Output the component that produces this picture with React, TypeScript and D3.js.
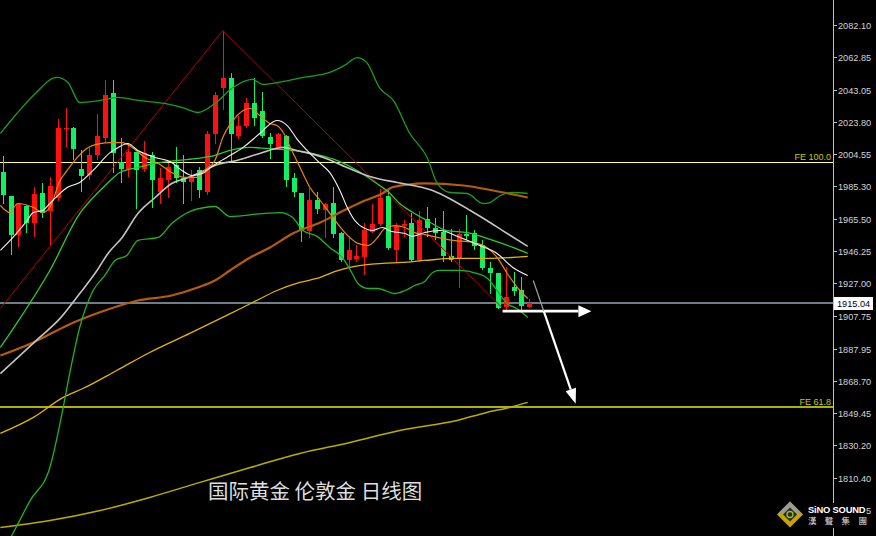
import React from 'react';
import * as d3 from 'd3';

type Pt = [number, number];

// ---- Daily candles (price) ----
const opens = [1993.5,1979.1,1956.3,1973.7,1963.5,1980.9,1970.7,1977.9,2019.8,2020.4,1995.3,1991.7,2003.7,2014.4,2040.8,1999.5,1995.3,2005.5,1995.3,2003.7,1981.5,1988.7,1997.7,1989.9,1987.5,1994.7,1981.5,2016.8,2043.8,2049.8,2015.6,2021.6,2034.8,2030.0,2015.0,2009.0,2015.6,1989.9,1980.9,1958.7,1977.3,1971.3,1975.5,1957.5,1940.8,1941.4,1942.6,1958.1,1962.9,1979.1,1946.8,1961.7,1963.5,1940.8,1965.9,1960.5,1958.1,1943.2,1942.0,1956.9,1957.5,1949.8,1936.0,1933.0,1913.2,1925.2,1923.4,1913.2];
const highs = [2003.1,1979.5,1975.2,1974.0,1984.5,1986.9,1990.5,2025.8,2031.8,2020.8,2006.7,2007.9,2028.8,2048.6,2048.6,2014.4,2011.4,2005.8,2012.6,2005.5,1995.9,1998.9,2009.0,2003.7,1994.7,1996.5,2018.6,2041.4,2078.5,2052.8,2027.6,2037.8,2049.8,2041.4,2017.4,2017.4,2016.0,1992.9,1981.2,1983.9,1981.5,1975.2,1984.5,1957.8,1955.7,1949.8,1963.5,1974.9,1983.3,1982.7,1963.5,1965.3,1969.5,1970.7,1973.1,1966.5,1970.7,1959.9,1959.9,1968.3,1959.3,1952.8,1939.6,1933.3,1936.6,1933.6,1930.6,1918.0];
const lows = [1974.9,1943.8,1948.6,1957.5,1954.6,1966.5,1949.8,1976.7,2008.5,2000.7,1981.5,1988.7,2000.7,2011.4,1992.9,1986.9,1990.5,1971.9,1993.5,1972.5,1974.9,1977.9,1986.9,1974.9,1976.7,1977.9,1979.7,2010.8,2030.6,1999.5,2013.8,2020.4,2021.6,2014.4,2001.3,2007.9,1984.5,1978.5,1951.6,1954.0,1968.9,1954.0,1954.0,1939.6,1936.0,1939.6,1931.8,1957.5,1961.7,1946.8,1939.6,1954.6,1939.6,1939.6,1954.6,1952.8,1939.6,1939.6,1924.6,1952.8,1946.8,1934.8,1921.0,1912.0,1911.4,1919.8,1910.8,1912.6];
const closes = [1979.7,1956.3,1974.9,1963.5,1980.3,1969.5,1985.1,2020.4,2020.4,2007.3,1991.1,2003.7,2015.6,2039.6,2004.9,1995.3,2005.5,1994.7,2004.9,1988.7,1989.9,1996.5,1989.9,1987.5,1991.1,1982.7,2016.8,2039.6,2049.8,2016.8,2021.6,2034.8,2026.4,2015.6,2010.8,2016.8,1988.7,1981.5,1958.7,1977.3,1971.9,1974.9,1956.9,1940.8,1946.8,1943.2,1959.3,1962.9,1977.9,1948.0,1961.7,1962.9,1940.8,1965.3,1960.5,1957.5,1943.2,1940.8,1956.9,1955.7,1949.2,1936.0,1933.0,1912.6,1919.2,1922.8,1913.8,1915.04];

// ---- Indicator lines: [bar index, price] ----
const upperBand: Pt[] = [[-0.3,2016.8],[1.8,2028.8],[3.9,2039.6],[6.9,2050.4],[8.3,2047.4],[9.8,2035.4],[12.4,2036.6],[14.7,2038.4],[17.2,2036.6],[20.6,2034.8],[23.2,2031.8],[24.8,2029.4],[27.0,2034.8],[29.3,2044.4],[31.8,2049.2],[33.1,2046.2],[35.7,2048.0],[38.2,2050.4],[41.6,2053.4],[43.5,2057.6],[45.1,2062.3],[46.3,2059.4],[48.0,2043.8],[49.7,2036.6],[51.8,2016.8],[54.0,2002.5],[55.3,1986.9],[56.9,1981.5],[59.1,1980.9],[61.1,1974.9],[62.0,1975.5],[63.3,1979.7],[64.9,1981.5],[66.8,1980.9]];
const middleBand: Pt[] = [[-0.3,1888.7],[2.2,1906.1],[6.0,1934.8],[9.8,1968.9],[12.4,1982.7],[13.7,1988.7],[14.9,1993.5],[17.2,1996.5],[19.4,1998.9],[22.3,2000.7],[24.8,2001.9],[27.0,2003.7],[28.9,2006.7],[31.5,2008.5],[33.6,2007.9],[36.9,2006.7],[40.4,2003.7],[42.5,2000.7],[45.1,1994.7],[47.6,1986.9],[49.3,1980.9],[50.5,1974.9],[52.2,1969.5],[54.0,1964.7],[56.5,1958.7],[59.1,1957.5],[62.4,1952.8],[64.9,1948.6],[66.8,1945.0]];
const lowerBand: Pt[] = [[-0.3,1763.5],[1.3,1777.3],[3.5,1797.1],[6.0,1816.8],[7.7,1852.8],[8.6,1874.9],[9.8,1900.7],[11.5,1922.8],[13.0,1931.8],[14.3,1940.8],[15.8,1943.8],[17.2,1952.8],[19.8,1954.6],[21.5,1962.9],[24.1,1970.7],[25.7,1972.5],[27.0,1973.1],[28.9,1967.1],[33.1,1968.9],[35.3,1969.5],[36.9,1966.5],[38.2,1958.7],[40.0,1955.2],[41.6,1948.6],[43.2,1942.6],[44.4,1933.6],[45.2,1927.0],[46.5,1924.0],[47.7,1924.0],[49.9,1921.0],[51.2,1922.8],[52.4,1925.8],[53.7,1928.2],[54.7,1933.6],[55.6,1934.8],[58.2,1934.8],[60.3,1933.0],[61.7,1930.0],[62.9,1922.8],[64.2,1915.0],[65.4,1912.0],[66.8,1906.7]];
const fastWhite: Pt[] = [[-0.3,1946.8],[1.3,1954.6],[3.1,1964.7],[3.9,1969.5],[5.1,1970.7],[6.0,1974.9],[8.2,1984.5],[9.8,1987.5],[11.5,1994.7],[13.7,2005.5],[14.7,2008.5],[15.9,2010.8],[17.2,2006.7],[19.4,2002.5],[21.5,1999.5],[22.8,1994.7],[24.1,1991.7],[25.4,1992.9],[26.6,1997.1],[28.5,2002.5],[30.6,2008.5],[32.7,2016.8],[34.9,2024.6],[36.2,2021.6],[37.4,2013.8],[39.1,2004.9],[40.4,1998.9],[41.6,1993.5],[42.9,1982.7],[43.9,1971.9],[44.8,1964.7],[46.1,1959.9],[47.0,1958.7],[48.3,1960.5],[49.5,1958.1],[51.2,1956.9],[52.1,1955.2],[53.7,1957.5],[55.6,1958.7],[58.2,1954.6],[60.7,1949.8],[62.9,1945.0],[64.9,1936.6],[66.8,1931.8]];
const grayMA: Pt[] = [[-0.3,1873.1],[4.7,1894.7],[7.3,1906.1],[9.8,1921.0],[12.0,1934.8],[13.4,1945.0],[15.2,1954.6],[17.2,1968.9],[19.4,1978.5],[21.5,1986.9],[23.6,1990.5],[25.7,1994.7],[27.0,1997.7],[29.8,2000.7],[32.7,2004.9],[35.7,2008.5],[37.4,2006.7],[40.8,2002.5],[43.8,1996.5],[46.7,1991.1],[50.2,1987.5],[52.2,1985.7],[54.7,1982.7],[57.3,1976.7],[59.5,1970.7],[61.6,1964.7],[63.6,1958.7],[66.8,1949.2]];
const orangeMA: Pt[] = [[-0.3,1973.7],[0.9,1969.5],[1.9,1974.9],[3.9,1972.5],[5.1,1969.5],[6.0,1972.5],[7.3,1988.7],[8.2,1994.7],[9.5,2002.5],[10.7,2007.9],[12.4,2010.8],[13.7,2011.4],[15.2,2011.4],[16.5,2008.5],[18.1,2002.5],[19.8,1998.9],[21.5,1993.5],[23.2,1990.5],[24.8,1990.5],[25.7,1994.7],[27.0,2000.7],[28.0,2014.4],[29.3,2024.6],[30.6,2030.6],[31.5,2031.8],[32.7,2027.6],[34.0,2022.8],[34.9,2021.6],[35.7,2017.4],[36.6,2008.5],[37.4,2000.7],[38.2,1992.9],[39.1,1984.5],[40.4,1976.7],[42.3,1964.7],[43.9,1955.7],[45.2,1951.0],[46.5,1949.8],[47.6,1954.0],[48.6,1959.9],[49.9,1961.7],[51.2,1960.5],[52.4,1957.5],[53.7,1956.3],[57.3,1952.8],[59.8,1951.6],[61.6,1948.6],[62.9,1942.6],[64.2,1933.0],[65.8,1922.8],[66.8,1918.0]];
const brownMA: Pt[] = [[-0.3,1883.9],[3.9,1891.7],[8.2,1901.9],[13.0,1910.8],[17.2,1916.8],[21.5,1919.8],[24.8,1924.6],[27.0,1928.8],[28.9,1934.8],[31.5,1942.6],[34.0,1948.6],[36.9,1956.9],[40.4,1963.5],[43.9,1971.9],[46.1,1976.7],[48.3,1980.9],[49.5,1984.5],[51.6,1986.3],[53.7,1986.9],[58.6,1985.7],[62.4,1982.7],[66.8,1978.5]];
const yellowMA: Pt[] = [[-0.3,1837.2],[3.9,1846.8],[7.7,1858.8],[10.2,1864.1],[14.5,1874.9],[18.7,1885.7],[23.8,1897.1],[28.5,1907.9],[31.8,1915.6],[34.9,1922.8],[37.8,1927.6],[40.4,1930.6],[42.3,1934.2],[44.8,1937.2],[48.3,1939.0],[50.8,1939.6],[53.7,1940.8],[57.3,1942.0],[61.6,1942.0],[66.8,1943.2]];
const oliveMA: Pt[] = [[-0.3,1780.9],[6.0,1785.1],[12.4,1791.1],[18.7,1798.9],[25.1,1807.9],[31.5,1816.8],[37.8,1825.2],[44.2,1831.8],[50.5,1839.0],[57.8,1845.0],[61.6,1849.8],[64.5,1852.8],[66.8,1855.8]];
const zigzag: Pt[] = [[-0.3,1912.0],[28,2078.5],[63.6,1912.3]];

// ---- Levels, arrows, labels ----
const fe100 = 1999.7;
const fe618 = 1852.9;
const lastPrice = 1915.04;
const hArrow: Pt[] = [[63.6,1910.4],[74.9,1910.4]];
const dArrow: Pt[] = [[67.5,1928.8],[72.9,1855.0]];
const tickLabels = ['2082.10','2062.85','2043.05','2023.80','2004.55','1985.30','1965.50','1946.25','1927.00','1907.75','1887.95','1868.70','1849.45','1830.20','1810.40','1791.15'];
const title = '国际黄金 伦敦金 日线图';

function head(x1: number, y1: number, x2: number, y2: number, len: number, half: number) {
  const a = Math.atan2(y2 - y1, x2 - x1);
  const bx = x2 - len * Math.cos(a), by = y2 - len * Math.sin(a);
  const px = -Math.sin(a) * half, py = Math.cos(a) * half;
  return { d: `M${x2},${y2}L${bx + px},${by + py}L${bx - px},${by - py}Z`, bx, by };
}

export default function App() {
  const W = 876, H = 536, AX = 833;
  const x = d3.scaleLinear().domain([0, 67]).range([2.7, 529.3]);
  const y = d3.scaleLinear().domain([1810.4, 2082.1]).range([478.2, 24.5]);
  const snap = (v: number) => Math.round(v) + 0.5;
  const smooth = d3.line<Pt>().x(d => x(d[0])).y(d => y(d[1])).curve(d3.curveMonotoneX);
  const straight = d3.line<Pt>().x(d => x(d[0])).y(d => y(d[1]));

  const candles = opens.map((o, i) => {
    const c = closes[i];
    const cx = Math.round(x(i));
    const up = c >= o;
    const col = up ? '#ff1010' : '#10f060';
    const yt = Math.round(y(Math.max(o, c))), yb = Math.round(y(Math.min(o, c)));
    return (
      <g key={i}>
        <line x1={cx + 0.5} x2={cx + 0.5} y1={Math.round(y(highs[i]))} y2={Math.round(y(lows[i]))} stroke={col} strokeWidth={1} shapeRendering="crispEdges" />
        <rect x={cx - 2} y={yt} width={5} height={Math.max(1, yb - yt)} fill={col} shapeRendering="crispEdges" />
      </g>
    );
  });

  const hx1 = x(hArrow[0][0]), hy1 = y(hArrow[0][1]), hx2 = x(hArrow[1][0]), hy2 = y(hArrow[1][1]);
  const hh = head(hx1, hy1, hx2, hy2, 13, 6);
  const dx1 = x(dArrow[0][0]), dy1 = y(dArrow[0][1]), dx2 = x(dArrow[1][0]), dy2 = y(dArrow[1][1]);
  const dh = head(dx1, dy1, dx2, dy2, 15, 5.5);
  const mx = dx1 + (dx2 - dx1) * 0.25, my = dy1 + (dy2 - dy1) * 0.25;

  const lc = 790, lm = 514.5;

  return (
    <svg width={W} height={H} style={{ position: 'absolute', left: 0, top: 0, display: 'block', background: '#000' }}>
      <defs>
        <clipPath id="plot"><rect x={0} y={0} width={AX} height={H} /></clipPath>
        <clipPath id="lastTick"><rect x={866} y={490} width={10} height={40} /></clipPath>
      </defs>
      <rect x={0} y={0} width={W} height={H} fill="#000" />
      <g clipPath="url(#plot)">
        {/* horizontal levels */}
        <line x1={0} x2={AX} y1={snap(y(fe100))} y2={snap(y(fe100))} stroke="#ffff86" strokeWidth={1} />
        <line x1={0} x2={AX} y1={Math.round(y(fe618))} y2={Math.round(y(fe618))} stroke="#b0b000" strokeWidth={2} />
        <line x1={0} x2={AX} y1={Math.round(y(lastPrice))} y2={Math.round(y(lastPrice))} stroke="#6f7c8a" strokeWidth={2} />
        {candles}
        <path d={straight(zigzag) || ''} fill="none" stroke="#b80000" strokeWidth={1} />
        <path d={smooth(oliveMA) || ''} fill="none" stroke="#bcac00" strokeWidth={1.5} />
        <path d={smooth(yellowMA) || ''} fill="none" stroke="#e6b400" strokeWidth={1.3} />
        <path d={smooth(brownMA) || ''} fill="none" stroke="#b85c08" strokeWidth={2.2} />
        <path d={smooth(upperBand) || ''} fill="none" stroke="#1a9e1a" strokeWidth={1.3} />
        <path d={smooth(lowerBand) || ''} fill="none" stroke="#20b420" strokeWidth={1.3} />
        <path d={smooth(middleBand) || ''} fill="none" stroke="#2ccc2c" strokeWidth={1.3} />
        <path d={smooth(grayMA) || ''} fill="none" stroke="#c4c4c4" strokeWidth={1.6} />
        <path d={smooth(orangeMA) || ''} fill="none" stroke="#e88a00" strokeWidth={1.2} />
        <path d={smooth(fastWhite) || ''} fill="none" stroke="#f4f4f4" strokeWidth={1.1} />
        {/* arrows */}
        <line x1={hx1} y1={hy1} x2={hh.bx} y2={hh.by} stroke="#ffffff" strokeWidth={2.8} />
        <path d={hh.d} fill="#ffffff" />
        <line x1={dx1} y1={dy1} x2={mx} y2={my} stroke="#a0a0a0" strokeWidth={1.2} />
        <line x1={mx} y1={my} x2={dh.bx} y2={dh.by} stroke="#ffffff" strokeWidth={2.2} />
        <path d={dh.d} fill="#ffffff" />
        {/* FE labels */}
        <text x={831} y={y(fe100) - 2} textAnchor="end" fontFamily="Liberation Sans, Arial, sans-serif" fontSize={9} fill="#c8c800">FE 100.0</text>
        <text x={831} y={y(fe618) - 2} textAnchor="end" fontFamily="Liberation Sans, Arial, sans-serif" fontSize={9} fill="#c8c800">FE 61.8</text>
      </g>
      {/* price axis */}
      <line x1={AX + 0.5} x2={AX + 0.5} y1={0} y2={H} stroke="#c0c0c0" strokeWidth={1} />
      {tickLabels.map((t, k) => {
        const ty = Math.round(y(parseFloat(t))) + 0.5;
        const hidden = k === tickLabels.length - 1;
        return (
          <g key={t}>
            <line x1={AX + 1} x2={AX + 4} y1={ty} y2={ty} stroke="#c0c0c0" strokeWidth={1} />
            <text x={838} y={ty} dy="0.35em" fontFamily="Liberation Sans, Arial, sans-serif" fontSize={9.2} fill="#d4d4d4" clipPath={hidden ? 'url(#lastTick)' : undefined}>{t}</text>
          </g>
        );
      })}
      <rect x={834} y={Math.round(y(lastPrice)) - 6} width={39} height={13} fill="#ffffff" />
      <text x={837} y={Math.round(y(lastPrice)) + 0.5} dy="0.35em" fontFamily="Liberation Sans, Arial, sans-serif" fontSize={9.2} fill="#000">{lastPrice.toFixed(2)}</text>
      {/* title */}
      <text x={208} y={499} fontFamily="Noto Sans CJK SC, sans-serif" fontSize={20.5} fill="#dedede">{title}</text>
      {/* logo */}
      <rect x={774} y={503} width={92} height={25} fill="#000" />
      <path d={`M${lc},${lm - 13}L${lc + 13},${lm}L${lc},${lm + 13}L${lc - 13},${lm}Z`} fill="#c9a400" />
      <path d={`M${lc - 13},${lm}L${lc},${lm - 13}L${lc + 13},${lm}L${lc},${lm - 3}Z`} fill="#9a9a9a" />
      <path d={`M${lc},${lm - 7}L${lc + 7},${lm}L${lc},${lm + 7}L${lc - 7},${lm}Z`} fill="#2a2a20" />
      <circle cx={lc} cy={lm} r={3} fill="none" stroke="#9cc020" strokeWidth={1.3} />
      <text x={808} y={513} fontFamily="Liberation Sans, Arial, sans-serif" fontWeight="bold" fontSize={9.4} fill="#ffffff" letterSpacing={-0.2}>SiNO SOUND</text>
      {['漢', '聲', '集', '團'].map((ch, k) => (
        <text key={ch} x={808 + k * 16.8} y={524} fontFamily="Noto Sans CJK TC, sans-serif" fontSize={8.5} fill="#e6e6e6">{ch}</text>
      ))}
    </svg>
  );
}
